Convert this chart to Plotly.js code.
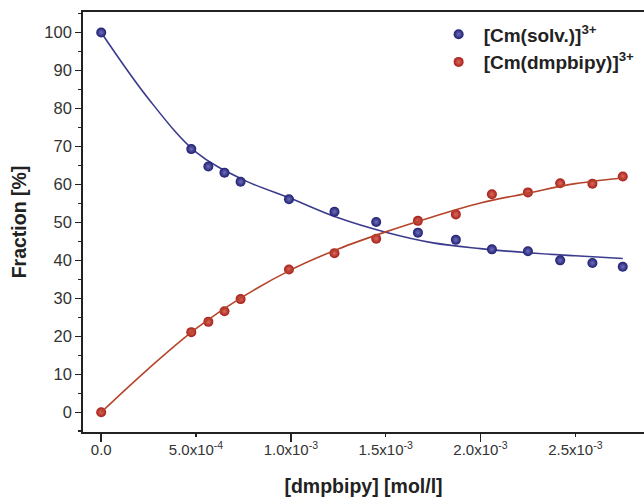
<!DOCTYPE html>
<html>
<head>
<meta charset="utf-8">
<script src="https://cdn.plot.ly/plotly-3.0.1.min.js"></script>
<style>html,body{margin:0;padding:0;background:#fff;overflow:hidden;}#chart{width:644px;height:499px;}</style>
</head>
<body>
<div id="chart"></div>
<script>
// measured points
const concentration = [0, 4.75e-4, 5.65e-4, 6.5e-4, 7.35e-4, 9.9e-4, 1.23e-3, 1.45e-3, 1.67e-3, 1.87e-3, 2.06e-3, 2.25e-3, 2.42e-3, 2.59e-3, 2.75e-3];
const cmSolv = [100, 69.3, 64.7, 63.1, 60.7, 56.1, 52.8, 50.1, 47.3, 45.4, 42.9, 42.4, 40.0, 39.3, 38.3];
const cmDmpbipy = [0, 21.1, 23.8, 26.6, 29.8, 37.6, 41.9, 45.7, 50.4, 52.1, 57.4, 57.9, 60.3, 60.2, 62.1];

// fitted curves
const fitConc = [0, 2.5e-4, 5e-4, 7.5e-4, 1e-3, 1.25e-3, 1.5e-3, 1.75e-3, 2e-3, 2.25e-3, 2.5e-3, 2.75e-3];
const fitSolv = [100, 82.5, 68.5, 61.2, 56.3, 51.2, 47.4, 44.6, 43.1, 42.0, 41.2, 40.5];
const fitDmpbipy = [0, 11.5, 22, 30.5, 37.5, 43, 47.5, 51.5, 55.1, 57.7, 60.2, 61.7];

// tick labels
const xTickVals = [0, 5e-4, 1e-3, 1.5e-3, 2e-3, 2.5e-3];
const xTickText = ['0.0', '5.0x10<sup>-4</sup>', '1.0x10<sup>-3</sup>', '1.5x10<sup>-3</sup>', '2.0x10<sup>-3</sup>', '2.5x10<sup>-3</sup>'];
const xMajorVals = [0, 1e-3, 2e-3];

const FONT = 'Arial, "Liberation Sans", sans-serif';
const blue = '#1e1e72', red = '#a51f1a';

const traces = [
  {x: fitConc, y: fitSolv, mode: 'lines', line: {color: '#3b3b8e', width: 1.6, shape: 'spline'}, showlegend: false, hoverinfo: 'skip'},
  {x: fitConc, y: fitDmpbipy, mode: 'lines', line: {color: '#b5442a', width: 1.6, shape: 'spline'}, showlegend: false, hoverinfo: 'skip', xaxis: 'x2'},
  {x: concentration, y: cmSolv, mode: 'markers', name: '[Cm(solv.)]<sup>3+</sup>',
   marker: {color: blue, size: 10, gradient: {type: 'radial', color: '#6e6eb8'}}},
  {x: concentration, y: cmDmpbipy, mode: 'markers', name: '[Cm(dmpbipy)]<sup>3+</sup>',
   marker: {color: red, size: 10, gradient: {type: 'radial', color: '#dc6a5c'}}}
];

const xr = [-0.96e-4, 2.862e-3];
const layout = {
  width: 644, height: 499,
  margin: {l: 83, r: 0, t: 12, b: 67},
  paper_bgcolor: '#ffffff', plot_bgcolor: '#ffffff',
  font: {family: FONT, color: '#333'},
  xaxis: {
    range: xr, tickvals: xTickVals, ticktext: xTickText,
    ticks: 'outside', ticklen: 3, tickwidth: 1.5, tickcolor: '#222',
    showline: true, linewidth: 1.8, linecolor: '#222', mirror: true,
    showgrid: false, zeroline: false,
    tickfont: {size: 15, color: '#333'},
    title: {text: '[dmpbipy] [mol/l]', font: {size: 19.5, color: '#222', weight: 'bold'}, standoff: 22}
  },
  xaxis2: {
    range: xr, overlaying: 'x', anchor: 'y', side: 'bottom',
    tickvals: xMajorVals, ticks: 'outside', ticklen: 9, tickwidth: 1.5, tickcolor: '#222',
    showticklabels: false, showline: false, showgrid: false, zeroline: false
  },
  yaxis: {
    range: [-5.2, 105.4], dtick: 10, tick0: 0,
    ticks: 'outside', ticklen: 6, tickwidth: 1.5, tickcolor: '#222',
    minor: {dtick: 5, ticks: 'outside', ticklen: 3, tickwidth: 1.5, tickcolor: '#222', showgrid: false},
    showline: true, linewidth: 1.8, linecolor: '#222', mirror: false,
    showgrid: false, zeroline: false,
    tickfont: {size: 16.5, color: '#333'},
    title: {text: 'Fraction [%]', font: {size: 19.5, color: '#222', weight: 'bold'}, standoff: 12}
  },
  legend: {
    x: 0.625, y: 0.992, xanchor: 'left', yanchor: 'top',
    bgcolor: 'rgba(0,0,0,0)', borderwidth: 0,
    font: {size: 19, color: '#222', weight: 'bold'}, itemwidth: 40
  },
  showlegend: true
};

Plotly.newPlot('chart', traces, layout, {staticPlot: true, displayModeBar: false});
</script>
</body>
</html>
